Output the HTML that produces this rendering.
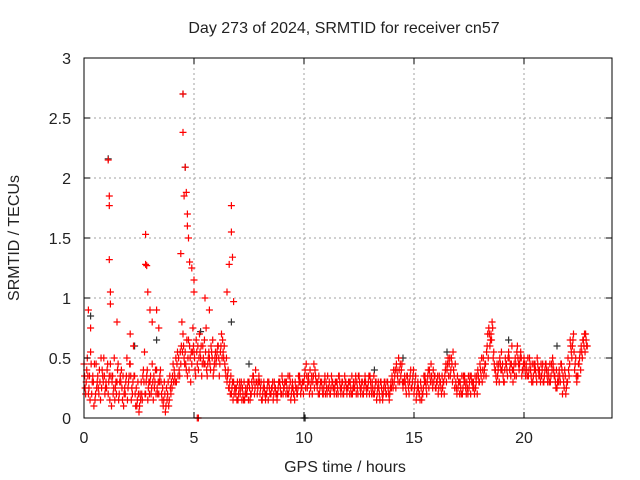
<!DOCTYPE html>
<html><head><meta charset="utf-8"><style>
body{margin:0;background:#fff}
svg{display:block;font-family:"Liberation Sans",sans-serif}
</style></head><body>
<svg id="chart" width="640" height="480">
<rect width="640" height="480" fill="#fff"/>
<text x="344" y="33" font-size="16" text-anchor="middle" fill="#222">Day 273 of 2024, SRMTID for receiver cn57</text>
<text x="345" y="472" font-size="16" text-anchor="middle" fill="#222">GPS time / hours</text>
<text transform="translate(19,238) rotate(-90)" font-size="16" text-anchor="middle" fill="#222">SRMTID / TECUs</text>
<g id="grid"></g><g id="marks"></g>
<rect x="84" y="58" width="528" height="360" fill="none" stroke="#000" stroke-width="1"/>
<g id="ticks"></g>
</svg>
<script>
const xTicks=[0,5,10,15,20];
const yTicks=[0,0.5,1,1.5,2,2.5,3];
const yTickLabels=["0","0.5","1","1.5","2","2.5","3"];
const baseStart=0, baseStep=0.1;
const redBase=[0.45,0.3,0.2,0.55,0.35,0.15,0.3,0.4,0.25,0.5,
0.3,0.2,0.45,0.35,0.15,0.3,0.2,0.4,0.1,0.3,
0.25,0.45,0.2,0.35,0.1,0.05,0.3,0.4,0.2,0.15,
0.3,0.45,0.25,0.4,0.2,0.3,0.1,0.05,0.2,0.35,
0.25,0.4,0.3,0.5,0.45,0.7,0.55,0.35,0.6,0.45,
0.55,0.65,0.4,0.5,0.6,0.45,0.35,0.5,0.55,0.4,
0.45,0.6,0.55,0.65,0.45,0.3,0.25,0.2,0.3,0.2,
0.15,0.2,0.25,0.15,0.2,0.3,0.2,0.35,0.4,0.25,
0.2,0.15,0.25,0.2,0.3,0.2,0.15,0.25,0.2,0.3,
0.35,0.25,0.3,0.2,0.15,0.25,0.3,0.2,0.35,0.25,
0.3,0.45,0.35,0.25,0.3,0.4,0.25,0.2,0.3,0.25,
0.3,0.25,0.2,0.3,0.25,0.3,0.35,0.25,0.2,0.3,
0.25,0.3,0.2,0.25,0.3,0.35,0.25,0.2,0.3,0.25,
0.35,0.3,0.2,0.15,0.25,0.3,0.2,0.25,0.3,0.2,
0.35,0.3,0.45,0.5,0.35,0.25,0.3,0.35,0.3,0.25,
0.2,0.15,0.25,0.3,0.2,0.35,0.3,0.4,0.35,0.3,
0.25,0.2,0.3,0.25,0.35,0.4,0.45,0.5,0.4,0.3,
0.25,0.3,0.2,0.35,0.3,0.25,0.35,0.3,0.25,0.4,
0.45,0.3,0.4,0.55,0.75,0.7,0.5,0.4,0.35,0.5,
0.4,0.3,0.45,0.55,0.35,0.3,0.5,0.6,0.45,0.35,
0.5,0.45,0.35,0.4,0.3,0.45,0.5,0.4,0.35,0.3,
0.45,0.4,0.3,0.5,0.35,0.25,0.4,0.45,0.3,0.2,
0.5,0.65,0.6,0.4,0.3,0.45,0.6,0.65,0.7];
const redAlt=[0.25,0.5,0.35,0.2,0.1,0.45,0.25,0.15,0.35,0.2,
0.4,0.35,0.1,0.25,0.3,0.45,0.35,0.15,0.25,0.5,
0.35,0.15,0.6,0.1,0.3,0.2,0.15,0.55,0.35,0.3,
0.2,0.15,0.4,0.2,0.35,0.15,0.3,0.25,0.1,0.2,
0.45,0.3,0.55,0.35,0.8,0.5,0.4,0.65,0.3,0.75,
0.4,0.45,0.7,0.35,0.45,0.75,0.5,0.4,0.65,0.5,
0.55,0.35,0.7,0.5,0.35,0.4,0.2,0.3,0.25,0.15,
0.25,0.3,0.15,0.25,0.3,0.15,0.25,0.2,0.3,0.35,
0.3,0.25,0.15,0.3,0.2,0.25,0.3,0.2,0.3,0.2,
0.2,0.3,0.2,0.35,0.25,0.2,0.25,0.35,0.2,0.3,
0.4,0.25,0.2,0.35,0.45,0.3,0.2,0.3,0.2,0.35,
0.2,0.3,0.35,0.25,0.3,0.2,0.25,0.3,0.35,0.2,
0.3,0.2,0.3,0.35,0.2,0.25,0.3,0.3,0.2,0.35,
0.25,0.2,0.3,0.25,0.15,0.2,0.3,0.2,0.2,0.3,
0.25,0.4,0.35,0.3,0.45,0.3,0.2,0.25,0.4,0.35,
0.3,0.25,0.2,0.15,0.35,0.25,0.4,0.3,0.25,0.35,
0.3,0.35,0.2,0.3,0.45,0.5,0.35,0.3,0.25,0.2,
0.3,0.2,0.35,0.25,0.2,0.35,0.3,0.2,0.35,0.3,
0.35,0.5,0.45,0.7,0.6,0.8,0.45,0.3,0.45,0.4,
0.35,0.5,0.35,0.4,0.6,0.45,0.35,0.45,0.55,0.4,
0.4,0.35,0.5,0.3,0.45,0.35,0.4,0.3,0.45,0.4,
0.35,0.3,0.45,0.4,0.25,0.35,0.3,0.2,0.4,0.3,
0.35,0.55,0.7,0.5,0.35,0.55,0.5,0.7,0.6];
const redC=[0.35,0.4,0.25,0.45,0.3,0.2,0.35,0.3,0.4,0.35,
0.25,0.3,0.35,0.2,0.25,0.4,0.3,0.25,0.2,0.35,
0.3,0.35,0.3,0.2,0.15,0.1,0.2,0.3,0.3,0.25,
0.35,0.3,0.3,0.25,0.3,0.2,0.15,0.1,0.3,0.25,
0.35,0.35,0.45,0.4,0.6,0.6,0.45,0.5,0.5,0.55,
0.5,0.55,0.5,0.6,0.5,0.55,0.45,0.45,0.5,0.45,
0.5,0.5,0.6,0.55,0.4,0.35,0.3,0.25,0.2,0.25,
0.2,0.25,0.2,0.2,0.25,0.25,0.3,0.3,0.3,0.3,
0.25,0.2,0.2,0.25,0.25,0.25,0.2,0.2,0.25,0.25,
0.3,0.3,0.25,0.25,0.2,0.2,0.25,0.25,0.3,0.3,
0.35,0.35,0.3,0.3,0.35,0.35,0.3,0.25,0.25,0.3,
0.25,0.25,0.25,0.25,0.3,0.25,0.3,0.3,0.25,0.25,
0.3,0.25,0.25,0.3,0.25,0.3,0.3,0.25,0.25,0.3,
0.3,0.25,0.25,0.2,0.2,0.25,0.25,0.2,0.25,0.25,
0.3,0.35,0.4,0.4,0.4,0.3,0.25,0.3,0.35,0.3,
0.25,0.2,0.2,0.25,0.25,0.3,0.35,0.35,0.3,0.35,
0.3,0.25,0.25,0.3,0.4,0.45,0.5,0.45,0.35,0.25,
0.3,0.25,0.25,0.3,0.25,0.3,0.3,0.25,0.3,0.35,
0.4,0.4,0.45,0.6,0.7,0.65,0.55,0.35,0.4,0.45,
0.45,0.4,0.4,0.5,0.45,0.4,0.45,0.5,0.5,0.4,
0.45,0.4,0.4,0.35,0.35,0.4,0.45,0.35,0.4,0.35,
0.4,0.35,0.35,0.45,0.3,0.3,0.35,0.4,0.25,0.25,
0.4,0.6,0.65,0.45,0.35,0.5,0.55,0.6,0.65];
const redD=[0.2,0.35,0.15,0.3,0.45,0.25,0.2,0.5,0.3,0.25,
0.45,0.15,0.3,0.5,0.2,0.15,0.3,0.35,0.2,0.15,
0.45,0.25,0.35,0.25,0.2,0.15,0.35,0.2,0.4,0.2,
0.25,0.35,0.2,0.3,0.4,0.25,0.2,0.15,0.15,0.3,
0.3,0.5,0.35,0.55,0.55,0.45,0.65,0.4,0.55,0.6,
0.35,0.6,0.55,0.45,0.65,0.4,0.55,0.6,0.35,0.55,
0.6,0.45,0.5,0.6,0.5,0.25,0.35,0.15,0.25,0.3,
0.3,0.15,0.3,0.2,0.15,0.2,0.35,0.25,0.2,0.3,
0.15,0.3,0.2,0.15,0.2,0.3,0.25,0.15,0.3,0.2,
0.25,0.2,0.35,0.3,0.3,0.15,0.2,0.3,0.25,0.2,
0.25,0.3,0.4,0.2,0.25,0.3,0.35,0.3,0.2,0.2,
0.35,0.2,0.3,0.2,0.2,0.35,0.2,0.2,0.3,0.25,
0.2,0.35,0.25,0.2,0.35,0.2,0.2,0.35,0.25,0.2,
0.2,0.35,0.3,0.3,0.3,0.15,0.3,0.3,0.15,0.25,
0.4,0.25,0.3,0.45,0.3,0.35,0.35,0.2,0.25,0.4,
0.35,0.3,0.15,0.2,0.3,0.2,0.25,0.45,0.4,0.25,
0.35,0.3,0.35,0.2,0.3,0.35,0.4,0.55,0.45,0.35,
0.2,0.35,0.3,0.2,0.35,0.2,0.25,0.35,0.2,0.3,
0.5,0.35,0.35,0.5,0.65,0.75,0.4,0.45,0.3,0.55,
0.3,0.45,0.5,0.45,0.4,0.35,0.55,0.4,0.5,0.45,
0.35,0.5,0.45,0.45,0.4,0.3,0.35,0.45,0.3,0.45,
0.3,0.45,0.4,0.35,0.4,0.3,0.45,0.35,0.35,0.3,
0.45,0.5,0.55,0.35,0.45,0.4,0.65,0.55,0.6];
const redSpikeT=[1.1,1.15,1.15,1.15,1.2,1.2,2.8,2.8,2.85,2.9,3.0,3.1,4.5,4.5,4.55,4.6,4.65,4.7,4.75,4.7,4.8,4.9,5.0,5.0,6.7,6.7,6.75,6.6,6.8,6.5,0.2,0.3,1.5,2.1,3.3,3.4,5.5,5.7,4.4,5.15,5.2];
const redSpikeV=[2.15,1.85,1.77,1.32,1.05,0.95,1.53,1.28,1.27,1.05,0.9,0.8,2.7,2.38,1.85,2.09,1.88,1.7,1.5,1.6,1.3,1.25,1.15,1.05,1.77,1.55,1.34,1.28,0.97,1.05,0.9,0.75,0.8,0.7,0.9,0.75,1.0,0.9,1.37,0.0,0.0];
const blackT=[1.1,4.5,4.6,6.7,10.0,10.05,0.3,2.3,3.3,5.3,7.5,13.2,14.5,16.5,19.3,21.5];
const blackV=[2.16,2.7,2.09,0.8,0.0,0.0,0.85,0.6,0.65,0.72,0.45,0.4,0.5,0.55,0.65,0.6];

const ns="http://www.w3.org/2000/svg";
const X=t=>84+t*22.0, Y=v=>418-v*120;
const grid=document.getElementById('grid'), ticks=document.getElementById('ticks'), marks=document.getElementById('marks');
function mk(tag,attrs,parent){const e=document.createElementNS(ns,tag);for(const k in attrs)e.setAttribute(k,attrs[k]);parent.appendChild(e);return e;}
xTicks.forEach(t=>{
  if(t>0){const g=mk('line',{x1:X(t),x2:X(t),y1:58,y2:418,stroke:'#a0a0a0','stroke-dasharray':'2,3'},grid);
  
  }
  const a=mk('line',{x1:X(t),x2:X(t),y1:418,y2:412,stroke:'#000'},ticks);
  
  
  const b=mk('line',{x1:X(t),x2:X(t),y1:58,y2:64,stroke:'#000'},ticks);
  
  
  const l=mk('text',{x:X(t),y:443,'font-size':16,'text-anchor':'middle',fill:'#222'},ticks);l.textContent=String(t);
  
  
});
yTicks.forEach((v,i)=>{
  if(v>0&&v<3){const g=mk('line',{x1:84,x2:612,y1:Y(v),y2:Y(v),stroke:'#a0a0a0','stroke-dasharray':'2,3'},grid);
  
  }
  const a=mk('line',{x1:84,x2:90,y1:Y(v),y2:Y(v),stroke:'#000'},ticks);
  
  
  const b=mk('line',{x1:606,x2:612,y1:Y(v),y2:Y(v),stroke:'#000'},ticks);
  
  
  const l=mk('text',{x:71,y:Y(v)+6,'font-size':16,'text-anchor':'end',fill:'#222'},ticks);l.textContent=yTickLabels[i];
  
  
});
function cross(t,v,color,name){
  const x=X(t),y=Y(v);
  const p=mk('path',{d:`M${x-3.5} ${y}H${x+3.5}M${x} ${y-3.5}V${y+3.5}`,stroke:color,'stroke-width':1.2,fill:'none'},marks);
  
  
}
blackT.forEach((t,i)=>cross(t,blackV[i],'#333','black-point'));
redBase.forEach((v,i)=>cross(baseStart+i*baseStep,v,'#f00','red-point'));
redAlt.forEach((v,i)=>cross(baseStart+0.05+i*baseStep,v,'#f00','red-point'));
redC.forEach((v,i)=>cross(baseStart+0.025+i*baseStep,v,'#f00','red-point'));
redD.forEach((v,i)=>cross(baseStart+0.075+i*baseStep,v,'#f00','red-point'));
redSpikeT.forEach((t,i)=>cross(t,redSpikeV[i],'#f00','red-spike-point'));
</script>
</body></html>
